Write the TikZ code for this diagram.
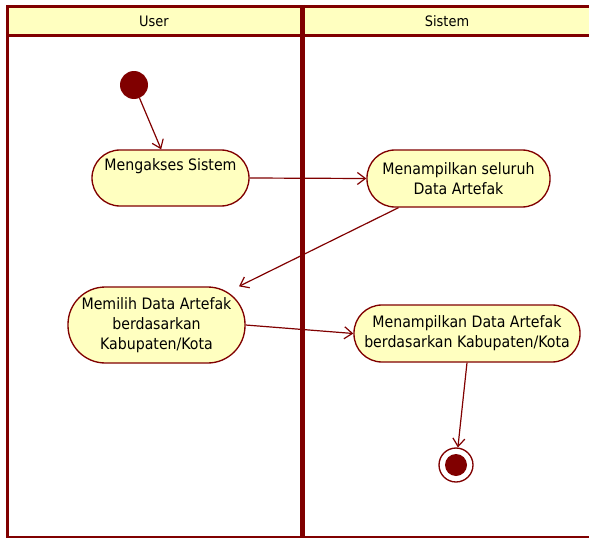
\documentclass[tikz,border=0pt]{standalone}
\usepackage{fontspec}
\setmainfont{DejaVu Sans Condensed}
\usetikzlibrary{arrows.meta}
\definecolor{umlred}{HTML}{800000}
\definecolor{umlfill}{HTML}{FFFFC0}
\begin{document}
\begin{tikzpicture}[x=0.75pt,y=-0.75pt,
  activity/.style={draw=umlred, fill=umlfill, line width=1pt, align=center,
    font=\fontsize{11.8}{15.2}\selectfont, inner sep=1pt},
  flow/.style={draw=umlred, line width=0.9pt, -{Straight Barb[length=6pt,width=9pt]}},
  border/.style={draw=umlred, line width=2.25pt}]
  \useasboundingbox (0,0) rectangle (589,539);

  % Swimlane header
  \fill[umlfill] (7,6) rectangle (600,35);
  \draw[border] (7,6) -- (600,6);
  \draw[border] (7,35) -- (600,35);
  \node[font=\fontsize{10.8}{13}\selectfont] (laneuser) at (154,21) {User};
  \node[font=\fontsize{10.8}{13}\selectfont] (lanesistem) at (447,21) {Sistem};

  % Lane borders
  \draw[border] (7,4.9) -- (7,538);
  \draw[draw=umlred, line width=3.75pt] (302,4.9) -- (302,538);
  \draw[draw=umlred, line width=1.1pt] (7,537) -- (600,537);

  % Start and end
  \node[circle, fill=umlred, minimum size=21pt, inner sep=0pt] (start) at (134,85) {};
  \node[circle, draw=umlred, line width=1pt, fill=white, minimum size=25.5pt, inner sep=0pt] (end) at (456,465) {};
  \fill[umlred] (end) circle (8.25pt);

  % Activities
  \node[activity, minimum width=117.75pt, minimum height=42pt, rounded corners=21pt]
    (mengakses) at (170.5,178) {Mengakses Sistem\\ \strut};
  \node[activity, minimum width=137.25pt, minimum height=42.75pt, rounded corners=21pt]
    (tampilsemua) at (458.5,178.5) {Menampilkan seluruh\\Data Artefak};
  \node[activity, minimum width=132.75pt, minimum height=57pt, rounded corners=28pt]
    (memilih) at (156.5,325) {Memilih Data Artefak\\berdasarkan\\Kabupaten/Kota};
  \node[activity, minimum width=169.5pt, minimum height=42.75pt, rounded corners=21pt]
    (tampilkota) at (467,333.5) {Menampilkan Data Artefak\\berdasarkan Kabupaten/Kota};

  % Flows
  \draw[flow] (start) -- ([xshift=-7pt]mengakses.north);
  \draw[flow] (mengakses.east) -- (tampilsemua.west);
  \draw[flow] ([xshift=-45pt]tampilsemua.south) -- ([xshift=-5pt]memilih.north east);
  \draw[flow] (memilih.east) -- (tampilkota.west);
  \draw[flow] (tampilkota.south) -- (end);
\end{tikzpicture}
\end{document}
